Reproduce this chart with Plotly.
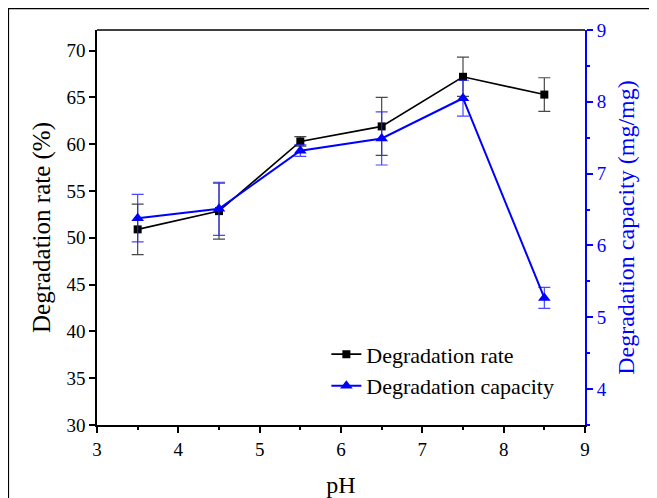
import plotly.graph_objects as go

ph = [3.5, 4.5, 5.5, 6.5, 7.5, 8.5]
rate = [50.9, 52.85, 60.3, 61.9, 67.2, 65.3]
rate_err = [2.7, 3.0, 0.5, 3.1, 2.1, 1.8]
capacity = [6.38, 6.51, 7.32, 7.49, 8.05, 5.27]
capacity_err = [0.33, 0.37, 0.08, 0.37, 0.25, 0.145]

FONT = "Liberation Serif, Times New Roman, serif"
BLUE = "#0000ff"

# page is drawn with an 8px body offset
L, R, T, B = 89, 80, 22, 77
PW, PH = 657 - L - R, 498 - T - B

fig = go.Figure()
fig.add_trace(go.Scatter(
    x=ph, y=rate, name="Degradation rate", mode="lines+markers",
    line=dict(color="black", width=1.6),
    marker=dict(symbol="square", size=8, color="black"),
    error_y=dict(type="data", array=rate_err, color="rgba(40,40,40,0.85)", thickness=1.2, width=6),
    yaxis="y"))
fig.add_trace(go.Scatter(
    x=ph, y=capacity, name="Degradation capacity", mode="lines+markers",
    line=dict(color=BLUE, width=2),
    marker=dict(symbol="triangle-up", size=11, color=BLUE),
    error_y=dict(type="data", array=capacity_err, color="rgba(40,40,255,0.85)", thickness=1.2, width=6),
    yaxis="y2"))

fig.update_layout(
    width=657, height=498,
    margin=dict(l=L, r=R, t=T, b=B),
    paper_bgcolor="white", plot_bgcolor="white",
    font=dict(family=FONT, size=19, color="black"),
    showlegend=True,
    legend=dict(x=0.47, y=0.232, xanchor="left", yanchor="top",
                bgcolor="rgba(0,0,0,0)", font=dict(family=FONT, size=22),
                tracegroupgap=0, itemwidth=30),
    xaxis=dict(range=[3, 9], tickmode="linear", tick0=3, dtick=1,
               ticks="outside", ticklen=6, tickwidth=1.5, tickcolor="black",
               minor=dict(ticks="outside", dtick=0.5, ticklen=3, tickwidth=1.5, tickcolor="black"),
               showline=True, linecolor="black", linewidth=1.5, mirror=False,
               showgrid=False, zeroline=False,
               title=dict(text="pH", font=dict(family=FONT, size=24), standoff=18),
               tickfont=dict(family=FONT, size=19)),
    yaxis=dict(range=[30, 72.2], tickmode="linear", tick0=30, dtick=5,
               ticks="outside", ticklen=6, tickwidth=1.5, tickcolor="black",
               showline=True, linecolor="black", linewidth=1.5,
               showgrid=False, zeroline=False,
               title=dict(text="Degradation rate (%)", font=dict(family=FONT, size=25), standoff=9),
               tickfont=dict(family=FONT, size=19)),
    yaxis2=dict(range=[3.5, 9], overlaying="y", side="right", tickmode="linear", tick0=4, dtick=1,
                ticks="outside", ticklen=6, tickwidth=1.5, tickcolor=BLUE,
                minor=dict(ticks="outside", dtick=0.5, ticklen=3, tickwidth=1.5, tickcolor=BLUE),
                showline=True, linecolor=BLUE, linewidth=1.8,
                showgrid=False, zeroline=False,
                title=dict(text="Degradation capacity (mg/mg)", font=dict(family=FONT, size=24, color=BLUE), standoff=11),
                tickfont=dict(family=FONT, size=19, color=BLUE)),
)

# top frame line of plot area
fig.add_shape(type="line", xref="x domain", yref="y domain", x0=0, x1=1, y0=1, y1=1,
              line=dict(color="black", width=1.5))
# outer figure frame (top and left edges)
fig.add_shape(type="line", xref="paper", yref="paper", x0=-L/PW, x1=1 + R/PW,
              y0=1 + T/PH - 0.5/PH, y1=1 + T/PH - 0.5/PH, line=dict(color="black", width=1.2))
fig.add_shape(type="line", xref="paper", yref="paper", x0=-L/PW + 0.5/PW, x1=-L/PW + 0.5/PW,
              y0=-B/PH, y1=1 + T/PH, line=dict(color="black", width=1.2))

fig.write_html("out.html")
